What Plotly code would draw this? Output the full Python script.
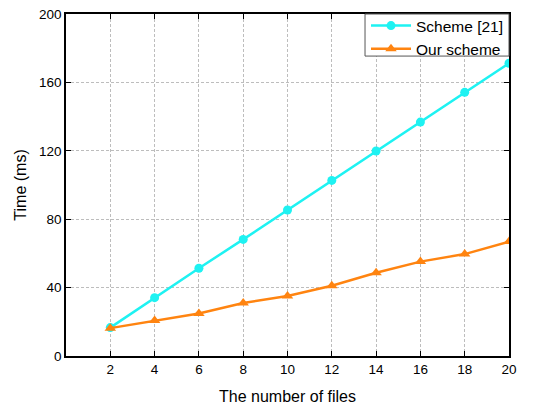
import plotly.graph_objects as go

files = [2, 4, 6, 8, 10, 12, 14, 16, 18, 20]
scheme21 = [16.6, 34.1, 51.3, 68.2, 85.4, 102.7, 119.9, 136.8, 154.2, 171.2]
ours = [16.3, 20.7, 24.8, 31.0, 35.1, 41.1, 48.7, 55.2, 59.6, 66.9]
x_ticks = [2, 4, 6, 8, 10, 12, 14, 16, 18, 20]
y_ticks = [0, 40, 80, 120, 160, 200]

fig = go.Figure()
fig.add_trace(go.Scatter(x=files, y=scheme21, mode="lines+markers", name="Scheme [21]",
                         line=dict(color="#1EF2F2", width=2.5),
                         marker=dict(symbol="circle", size=9, color="#1EF2F2")))
fig.add_trace(go.Scatter(x=files, y=ours, mode="lines+markers", name="Our scheme",
                         line=dict(color="#FF8410", width=2.5),
                         marker=dict(symbol="triangle-up", size=10, color="#FF8410")))

axis_common = dict(showline=True, linecolor="black", linewidth=1.5, mirror="ticks",
                   ticks="inside", ticklen=5, tickcolor="black", tickwidth=1.2,
                   showgrid=True, gridcolor="#bdbdbd", griddash="3px,2px", gridwidth=1,
                   zeroline=False, tickfont=dict(size=13.5, color="black"), automargin=False)

fig.update_xaxes(range=[0, 20], tickvals=x_ticks,
                 title=dict(text="The number of files", font=dict(size=16, color="black"), standoff=15),
                 **axis_common)
fig.update_yaxes(range=[0, 200], tickvals=y_ticks,
                 title=dict(text="Time (ms)", font=dict(size=16, color="black"), standoff=8),
                 **axis_common)

# legend frame
fig.add_shape(type="rect", xref="paper", yref="paper", x0=0.675, x1=1, y0=0.877, y1=1,
              line=dict(color="#555555", width=1), fillcolor="white", layer="above")

fig.update_layout(width=543, height=407, margin=dict(l=66, r=34, t=14, b=51, autoexpand=False),
                  plot_bgcolor="white", paper_bgcolor="white",
                  font=dict(family="Liberation Sans, Arial, sans-serif", color="black"),
                  legend=dict(x=1, y=1.0146, xanchor="right", yanchor="top",
                              borderwidth=0, bgcolor="rgba(0,0,0,0)",
                              font=dict(size=15.5, color="black"), tracegroupgap=0,
                              itemwidth=40))

fig.write_html("out.html", config={"displayModeBar": False},
               post_script="document.body.style.margin='0';document.body.style.overflow='hidden';")
